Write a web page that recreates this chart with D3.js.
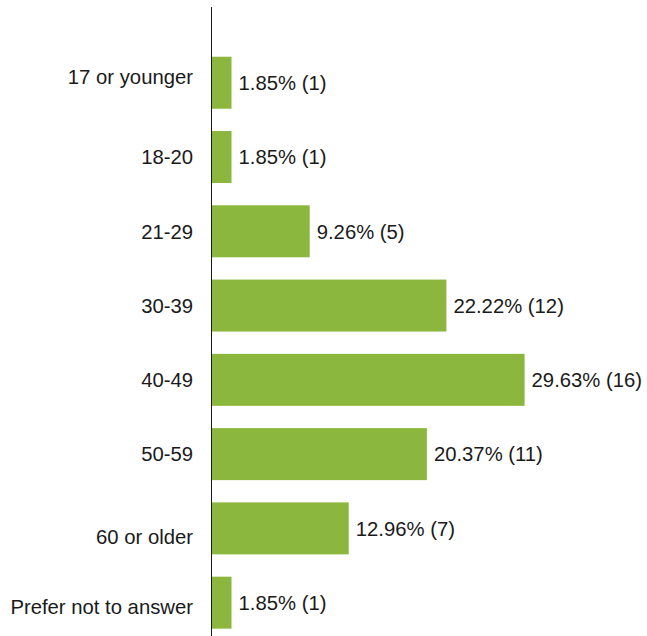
<!DOCTYPE html>
<html>
<head>
<meta charset="utf-8">
<script src="https://cdn.jsdelivr.net/npm/d3@7"></script>
<style>
  html, body { margin: 0; padding: 0; background: #fff; }
  svg { display: block; }
  text { font-family: "Liberation Sans", Arial, sans-serif; fill: #1a1a1a; }
</style>
</head>
<body>
<svg id="chart" width="647" height="636"></svg>
<script>
const categories = ["17 or younger", "18-20", "21-29", "30-39", "40-49", "50-59", "60 or older", "Prefer not to answer"];
const percents = [1.85, 1.85, 9.26, 22.22, 29.63, 20.37, 12.96, 1.85];
const counts = [1, 1, 5, 12, 16, 11, 7, 1];
const valueLabels = ["1.85% (1)", "1.85% (1)", "9.26% (5)", "22.22% (12)", "29.63% (16)", "20.37% (11)", "12.96% (7)", "1.85% (1)"];

const W = 647, H = 636;
const axisX = 212;
const fontSize = 20.3;
const svg = d3.select("#chart");

const x = d3.scaleLinear().domain([0, 30]).range([axisX, axisX + 316.5]);
const y = d3.scaleBand().domain(categories).range([45.6, 639.8]).paddingInner(0.3).paddingOuter(0.15);

// small vertical nudges of the category labels, as in the original layout
const labelNudge = [-6, 0, 0, 0, 0, 0, 8, 4];

const data = categories.map((c, i) => ({ c, p: percents[i], n: counts[i], label: valueLabels[i], nudge: labelNudge[i] }));

svg.selectAll("rect.bar").data(data).enter().append("rect")
  .attr("class", "bar")
  .attr("x", x(0))
  .attr("y", d => y(d.c))
  .attr("width", d => x(d.p) - x(0))
  .attr("height", y.bandwidth())
  .attr("fill", "#8cb73e");

svg.selectAll("text.val").data(data).enter().append("text")
  .attr("class", "val")
  .attr("x", d => x(d.p) + 7)
  .attr("y", d => y(d.c) + y.bandwidth() / 2)
  .attr("dy", "0.36em")
  .attr("font-size", fontSize)
  .text(d => d.label);

svg.selectAll("text.cat").data(data).enter().append("text")
  .attr("class", "cat")
  .attr("x", 193)
  .attr("y", d => y(d.c) + y.bandwidth() / 2 + d.nudge)
  .attr("dy", "0.36em")
  .attr("text-anchor", "end")
  .attr("font-size", fontSize)
  .text(d => d.c);

svg.append("line")
  .attr("x1", axisX - 0.5).attr("x2", axisX - 0.5)
  .attr("y1", 7).attr("y2", H)
  .attr("stroke", "#1a1a1a").attr("stroke-width", 1);
</script>
</body>
</html>
